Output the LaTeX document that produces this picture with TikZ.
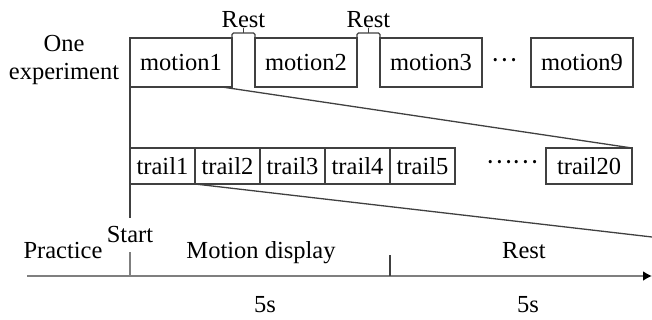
\documentclass[tikz,border=0pt]{standalone}
\usepackage{fontspec}
\setmainfont{Liberation Serif}
\newfontfamily\cjk{Noto Sans CJK SC}
\usetikzlibrary{arrows.meta,positioning,calc}

\definecolor{boxgray}{HTML}{404040}
\definecolor{axisgray}{HTML}{7F7F7F}

\tikzset{
  motionbox/.style={draw=boxgray, line width=1.3pt, minimum width=102pt, minimum height=49pt, inner sep=0pt, outer sep=0pt},
  trailbox/.style={draw=boxgray, line width=1.3pt, minimum width=65pt, minimum height=36pt, inner sep=0pt, outer sep=0pt},
  thinline/.style={boxgray, line width=1.3pt},
  axisline/.style={axisgray, line width=2pt},
}

\begin{document}
\begin{tikzpicture}[x=1pt, y=-1pt, font=\fontsize{24.5}{28}\selectfont]
\useasboundingbox (0,0) rectangle (652,320);

% One experiment: nine motions with rests between them
\node[align=center, inner sep=0pt] (oneexp) at (64,60) {One\\experiment};
\node[motionbox] (motion1) at (181,62.5) {motion1};
\node[motionbox, right=23pt of motion1] (motion2) {motion2};
\node[motionbox, right=23pt of motion2] (motion3) {motion3};
\node[anchor=base, inner sep=0pt] (mdots) at (504,70.5) {\raisebox{9pt}{\cjk …}};
\node[motionbox] (motion9) at (582,62.5) {motion9};

% Rest brackets
\foreach \a/\b in {1/2,2/3} {
  \coordinate (gap\a) at ($(motion\a.north east)!0.5!(motion\b.north west)+(0,-5)$);
  \draw[thinline, rounded corners=1.5pt] (motion\a.north east) -- ++(0,-5) -| (motion\b.north west);
  \node[above=5pt of gap\a, inner sep=0pt] (rest\a) {Rest};
  \draw[thinline] (gap\a) -- (rest\a.south);
}

% Trails of one motion
\node[trailbox] (trail1) at (162.5,166) {trail1};
\foreach \i [remember=\i as \j (initially 1)] in {2,...,5}
  \node[trailbox, right=0pt of trail\j] (trail\i) {trail\i};
\node[anchor=base, inner sep=0pt] (tdots) at (512,173) {\raisebox{9pt}{\cjk ……}};
\node[trailbox, minimum width=86pt] (trail20) at (589,166) {trail20};

% Time axis
\coordinate (a0) at (27,276);
\coordinate (a1) at (652,276);
\coordinate (t0) at (130,276);
\coordinate (t1) at (390,276);
\coordinate (t1top) at (390,255);
\draw[axisline, -{Latex[length=9pt,width=10pt,black]}] (a0) -- (a1);
\node[inner ysep=9pt] (start) at (130,235) {Start};
\draw[axisline] (start.south) -- (t0);
\draw[thinline] (t1) -- (t1top);

\node[anchor=base] (practice) at (63,258) {Practice};
\node[anchor=base] (display) at (261,258) {Motion display};
\node[anchor=base] (restlbl) at (524,258) {Rest};
\node[anchor=base] (dur1) at (265,312) {5s};
\node[anchor=base] (dur2) at (528,312) {5s};

% Zoom lines
\coordinate (zoomend) at (652,237);
\draw[thinline] ($(motion1.south east)+(-10,0)$) -- (trail20.north east);
\draw[thinline] (motion1.south west) -- (trail1.north west);
\draw[thinline] (trail1.south west) -- (start.north);
\draw[thinline] (trail1.south east) -- (zoomend);
\end{tikzpicture}
\end{document}
